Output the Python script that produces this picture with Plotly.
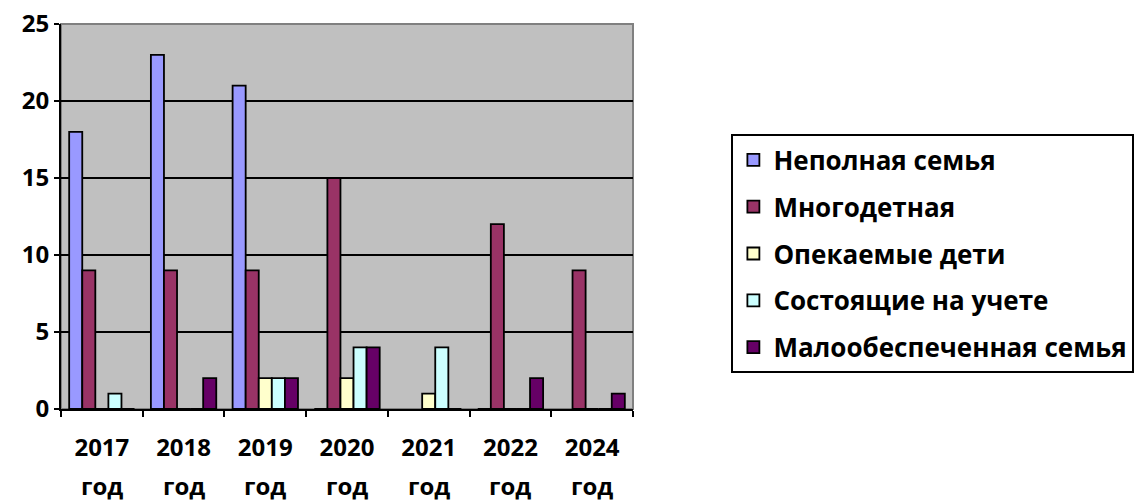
import plotly.graph_objects as go

years = ["2017", "2018", "2019", "2020", "2021", "2022", "2024"]
year_suffix = "год"
series_names = ["Неполная семья", "Многодетная", "Опекаемые дети", "Состоящие на учете", "Малообеспеченная семья"]
incomplete = [18, 23, 21, 0, None, 0, None]
large_family = [9, 9, 9, 15, None, 12, 9]
guardianship = [0, 0, 2, 2, 1, 0, 0]
registered = [1, 0, 2, 4, 4, 0, 0]
low_income = [0, 2, 2, 4, 0, 2, 1]
colors = ["#9999FF", "#993366", "#FFFFCC", "#CCFFFF", "#660066"]

values = [incomplete, large_family, guardianship, registered, low_income]

fig = go.Figure()
for i, (name, vals) in enumerate(zip(series_names, values)):
    fig.add_trace(go.Bar(
        x=years, y=vals, name=name,
        marker=dict(color=colors[i], line=dict(color="black", width=1.8)),
        legendgroup=str(i),
    ))

font_family = "Open Sans, Noto Sans, sans-serif"
fig.add_shape(type="rect", xref="paper", yref="paper", x0=0, x1=1, y0=0, y1=1,
              line=dict(color="#808080", width=2), layer="below")
for idx, yr in enumerate(years):
    fig.add_annotation(x=idx, xref="x", y=0, yref="paper", yanchor="top",
                       yshift=-58, text=year_suffix, showarrow=False,
                       font=dict(size=24, family=font_family, weight="bold", color="black"))
fig.update_layout(
    width=1144, height=502,
    margin=dict(l=53, r=519, t=16, b=101, autoexpand=False),
    paper_bgcolor="white",
    plot_bgcolor="#C0C0C0",
    barmode="group",
    bargap=0.2,
    bargroupgap=0,
    font=dict(family=font_family, color="black", size=20),
    showlegend=True,
    legend=dict(
        x=1.172, y=0.713, xanchor="left", yanchor="top",
        bordercolor="black", borderwidth=2,
        font=dict(size=26, family=font_family, color="black", weight="bold"),
        tracegroupgap=10,
        bgcolor="white",
    ),
    yaxis=dict(
        range=[0, 25], dtick=5,
        showgrid=True, gridcolor="black", gridwidth=2,
        showline=True, linecolor="black", linewidth=2,
        ticks="outside", ticklen=5, tickcolor="black", tickwidth=2,
        tickfont=dict(size=24, family=font_family, weight="bold"),
        ticklabeloverflow="allow",
        zeroline=False, automargin=False,
    ),
    xaxis=dict(
        type="category", categoryorder="array", categoryarray=years,
        range=[-0.5, len(years) - 0.5],
        showline=True, linecolor="black", linewidth=2,
        ticks="outside", ticklen=6, tickcolor="black", tickwidth=2,
        tickson="boundaries",
        tickfont=dict(size=24, family=font_family, weight="bold"),
        ticklabelstandoff=16, automargin=False,
    ),
)
fig.write_html("out.html")
